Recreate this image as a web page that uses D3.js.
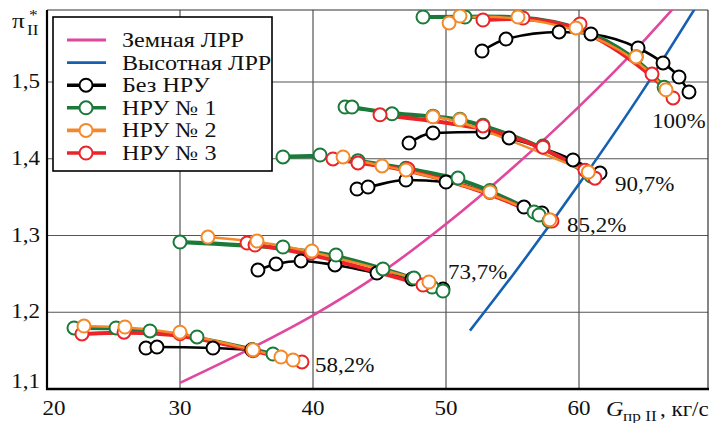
<!DOCTYPE html>
<html>
<head>
<meta charset="utf-8">
<script src="https://cdn.jsdelivr.net/npm/d3@7"></script>
<style>
  html, body { margin: 0; padding: 0; background: #fff; }
  svg { display: block; }
  text { font-family: "Liberation Serif", "Times New Roman", serif; fill: #111; }
</style>
</head>
<body>
<svg id="chart" width="710" height="423"></svg>
<script>
// ---------- data ----------
const speedLabels = ["58,2%", "73,7%", "85,2%", "90,7%", "100%"];
const xTicks = [20, 30, 40, 50, 60];
const yTicks = [1.1, 1.2, 1.3, 1.4, 1.5];
const yTickLabels = ["1,1", "1,2", "1,3", "1,4", "1,5"];
const legendLabels = ["Земная ЛРР", "Высотная ЛРР", "Без НРУ", "НРУ № 1", "НРУ № 2", "НРУ № 3"];

// operating lines: [G, pi]
const groundLine = [[30, 1.108], [35, 1.15], [40, 1.196], [45, 1.25], [50, 1.315], [55, 1.388], [60, 1.468], [65, 1.556], [67.2, 1.598]];
const altitudeLine = [[51.8, 1.176], [55, 1.248], [60, 1.367], [65, 1.494], [68.8, 1.598]];

// compressor characteristics per speed line (same order as speedLabels)
const noIGV = [
  [[27.44, 1.1534], [28.27, 1.1547], [32.48, 1.1534], [35.4, 1.151]],
  [[35.86, 1.255], [37.22, 1.2629], [39.1, 1.2668], [41.65, 1.2616], [44.81, 1.2511], [47.44, 1.2433], [49.77, 1.2303]],
  [[43.31, 1.3606], [44.14, 1.3632], [46.99, 1.3723], [50.0, 1.3697], [55.86, 1.3371], [57.22, 1.3293]],
  [[47.22, 1.4205], [49.02, 1.4336], [52.78, 1.4349], [54.74, 1.4271], [59.55, 1.3984], [61.58, 1.3814]],
  [[52.71, 1.5404], [54.51, 1.556], [58.5, 1.5652], [60.9, 1.5626], [64.44, 1.5443], [66.32, 1.5248], [67.52, 1.5065], [68.27, 1.487]]
];
const igv1 = [
  [[22.03, 1.1795], [25.19, 1.1795], [27.74, 1.1756], [31.28, 1.1678], [35.49, 1.151], [36.99, 1.1456]],
  [[30.0, 1.2915], [37.74, 1.285], [41.73, 1.2746], [45.26, 1.2564], [47.59, 1.2446], [48.95, 1.2329], [49.77, 1.2277]],
  [[37.74, 1.4023], [40.53, 1.4049], [43.38, 1.3975], [46.99, 1.3875], [50.9, 1.3749], [53.31, 1.3585], [56.62, 1.3306], [56.99, 1.3267], [57.74, 1.3189]],
  [[42.41, 1.4674], [42.93, 1.4674], [45.94, 1.4586], [49.02, 1.4555], [51.05, 1.4515], [52.78, 1.4435], [57.29, 1.4165], [60.9, 1.3775]],
  [[48.27, 1.5847], [51.43, 1.5847], [55.49, 1.586], [60.0, 1.574], [64.3, 1.533], [66.4, 1.493]]
];
const igv2 = [
  [[22.78, 1.182], [25.86, 1.1808], [30.0, 1.174], [35.49, 1.151], [37.59, 1.1417], [38.5, 1.1378]],
  [[32.1, 1.298], [35.79, 1.2928], [39.92, 1.2798], [48.72, 1.2394]],
  [[42.26, 1.4023], [45.19, 1.3906], [46.99, 1.3854], [53.31, 1.3567], [57.8, 1.3205]],
  [[49.02, 1.4547], [51.05, 1.4508], [60.7, 1.3827]],
  [[50.23, 1.5769], [51.05, 1.586], [55.41, 1.5847], [59.77, 1.5704], [64.29, 1.5326], [66.54, 1.4899]]
];
const igv3 = [
  [[22.63, 1.1717], [25.79, 1.174], [30.0, 1.172], [35.5, 1.15], [39.17, 1.1352]],
  [[35.04, 1.2902], [35.64, 1.2876], [39.85, 1.2772], [48.27, 1.2355]],
  [[41.5, 1.3997], [43.38, 1.3945], [47.14, 1.3866], [53.3, 1.356], [57.97, 1.3189]],
  [[45.04, 1.4573], [52.78, 1.4427], [57.29, 1.4151], [60.45, 1.3851], [61.2, 1.3747]],
  [[52.78, 1.5808], [55.79, 1.5834], [60.08, 1.5756], [65.49, 1.5104], [67.07, 1.4792]]
];

// ---------- layout ----------
const plot = { left: 47, right: 708, top: 10, bottom: 389 };
const SX = 1.15; // horizontal stretch of the serif lettering

const x = d3.scaleLinear().domain([20, 60]).range([47, 579]);
const y = d3.scaleLinear().domain([1.1, 1.5]).range([389, 82]);

const colors = {
  ground: "#e0479e",
  altitude: "#1560b0",
  noIGV: "#000000",
  igv1: "#1b7a3a",
  igv2: "#f5892a",
  igv3: "#ea2428"
};

const svg = d3.select("#chart");

function stext(g, px, py, str, size, anchor) {
  return g.append("text")
    .attr("transform", `translate(${px},${py}) scale(${SX},1)`)
    .attr("text-anchor", anchor || "start")
    .attr("font-size", size)
    .text(str);
}

svg.append("defs").append("clipPath").attr("id", "plotClip")
  .append("rect")
  .attr("x", plot.left).attr("y", plot.top)
  .attr("width", plot.right - plot.left).attr("height", plot.bottom - plot.top);

// grid
const grid = svg.append("g");
grid.selectAll("line.v").data(xTicks.slice(1)).join("line")
  .attr("x1", d => x(d)).attr("x2", d => x(d))
  .attr("y1", plot.top).attr("y2", plot.bottom)
  .attr("stroke", "#333").attr("stroke-width", 1);
grid.selectAll("line.h").data(yTicks.slice(1)).join("line")
  .attr("x1", plot.left).attr("x2", plot.right)
  .attr("y1", d => y(d)).attr("y2", d => y(d))
  .attr("stroke", "#555").attr("stroke-width", 1.2);

// frame
svg.append("line").attr("x1", plot.left).attr("x2", plot.right).attr("y1", plot.top).attr("y2", plot.top)
  .attr("stroke", "#333").attr("stroke-width", 1.2);
svg.append("line").attr("x1", plot.right).attr("x2", plot.right).attr("y1", plot.top).attr("y2", plot.bottom)
  .attr("stroke", "#333").attr("stroke-width", 1.2);

const body = svg.append("g").attr("clip-path", "url(#plotClip)");

const smooth = d3.line().x(d => x(d[0])).y(d => y(d[1])).curve(d3.curveBasis);
const mono = d3.line().x(d => x(d[0])).y(d => y(d[1])).curve(d3.curveMonotoneX);

// operating lines
body.append("path").attr("d", mono(groundLine)).attr("fill", "none")
  .attr("stroke", colors.ground).attr("stroke-width", 2.6);
body.append("path").attr("d", mono(altitudeLine)).attr("fill", "none")
  .attr("stroke", colors.altitude).attr("stroke-width", 2.6);

// characteristic lines
const lineLayer = body.append("g");
noIGV.forEach(s => lineLayer.append("path").attr("d", mono(s)).attr("fill", "none")
  .attr("stroke", colors.noIGV).attr("stroke-width", 2.6));
igv1.forEach(s => lineLayer.append("path").attr("d", smooth(s)).attr("fill", "none")
  .attr("stroke", colors.igv1).attr("stroke-width", 4.2));
igv3.forEach(s => lineLayer.append("path").attr("d", smooth(s)).attr("fill", "none")
  .attr("stroke", colors.igv3).attr("stroke-width", 4));
igv2.forEach(s => lineLayer.append("path").attr("d", smooth(s)).attr("fill", "none")
  .attr("stroke", colors.igv2).attr("stroke-width", 2.4));

// markers (later series sit on top)
const R = 6.5;
function markers(sets, color) {
  const g = body.append("g");
  g.selectAll("circle").data(sets.flat()).join("circle")
    .attr("cx", d => x(d[0])).attr("cy", d => y(d[1])).attr("r", R)
    .attr("fill", "#fff").attr("stroke", color).attr("stroke-width", 2);
}
markers(noIGV, colors.noIGV);
markers(igv1, colors.igv1);
markers(igv3, colors.igv3);
markers(igv2, colors.igv2);

// speed labels
const labelAt = { "58,2%": [40.15, 1.1222], "73,7%": [50.15, 1.2433], "85,2%": [59.1, 1.3046], "90,7%": [62.71, 1.358], "100%": [65.49, 1.440] };
const lab = svg.append("g");
speedLabels.forEach(t => stext(lab, x(labelAt[t][0]), y(labelAt[t][1]), t, 20));

// axes lines
svg.append("line").attr("x1", plot.left).attr("x2", plot.left).attr("y1", plot.top).attr("y2", plot.bottom + 1)
  .attr("stroke", "#000").attr("stroke-width", 2.2);
svg.append("line").attr("x1", plot.left - 1).attr("x2", plot.right + 1).attr("y1", plot.bottom).attr("y2", plot.bottom)
  .attr("stroke", "#000").attr("stroke-width", 2.6);

// tick labels
const ticks = svg.append("g");
xTicks.forEach((t, i) => stext(ticks, x(t) + (i === 0 ? 7 : 0), 415, String(t), 20, "middle"));
yTicks.forEach((t, i) => stext(ticks, 40, y(t) + (i === 0 ? -1 : 6), yTickLabels[i], 20, "end"));

// axis titles
stext(svg, 12, 28, "π", 22);
stext(svg, 29, 20, "*", 15);
stext(svg, 27, 35, "II", 15);
svg.append("text")
  .attr("transform", `translate(606,416) scale(${SX},1)`)
  .attr("font-size", 21).attr("font-style", "italic").text("G");
stext(svg, 623, 421, "пр II", 15);
stext(svg, 660, 416, ", кг/с", 20);

// legend
const leg = svg.append("g");
leg.append("rect").attr("x", 53).attr("y", 17).attr("width", 219).attr("height", 154)
  .attr("fill", "#fff").attr("stroke", "#000").attr("stroke-width", 1.6);
const legColors = [colors.ground, colors.altitude, colors.noIGV, colors.igv1, colors.igv2, colors.igv3];
legendLabels.forEach((t, i) => {
  const cy = 40 + i * 22.6;
  leg.append("line").attr("x1", 67).attr("x2", 106).attr("y1", cy).attr("y2", cy)
    .attr("stroke", legColors[i]).attr("stroke-width", i < 2 ? 2.8 : 3.6);
  if (i >= 2) {
    leg.append("circle").attr("cx", 86).attr("cy", cy).attr("r", R)
      .attr("fill", "#fff").attr("stroke", legColors[i]).attr("stroke-width", 2);
  }
  stext(leg, 122, cy + 7, t, 21);
});
</script>
</body>
</html>
